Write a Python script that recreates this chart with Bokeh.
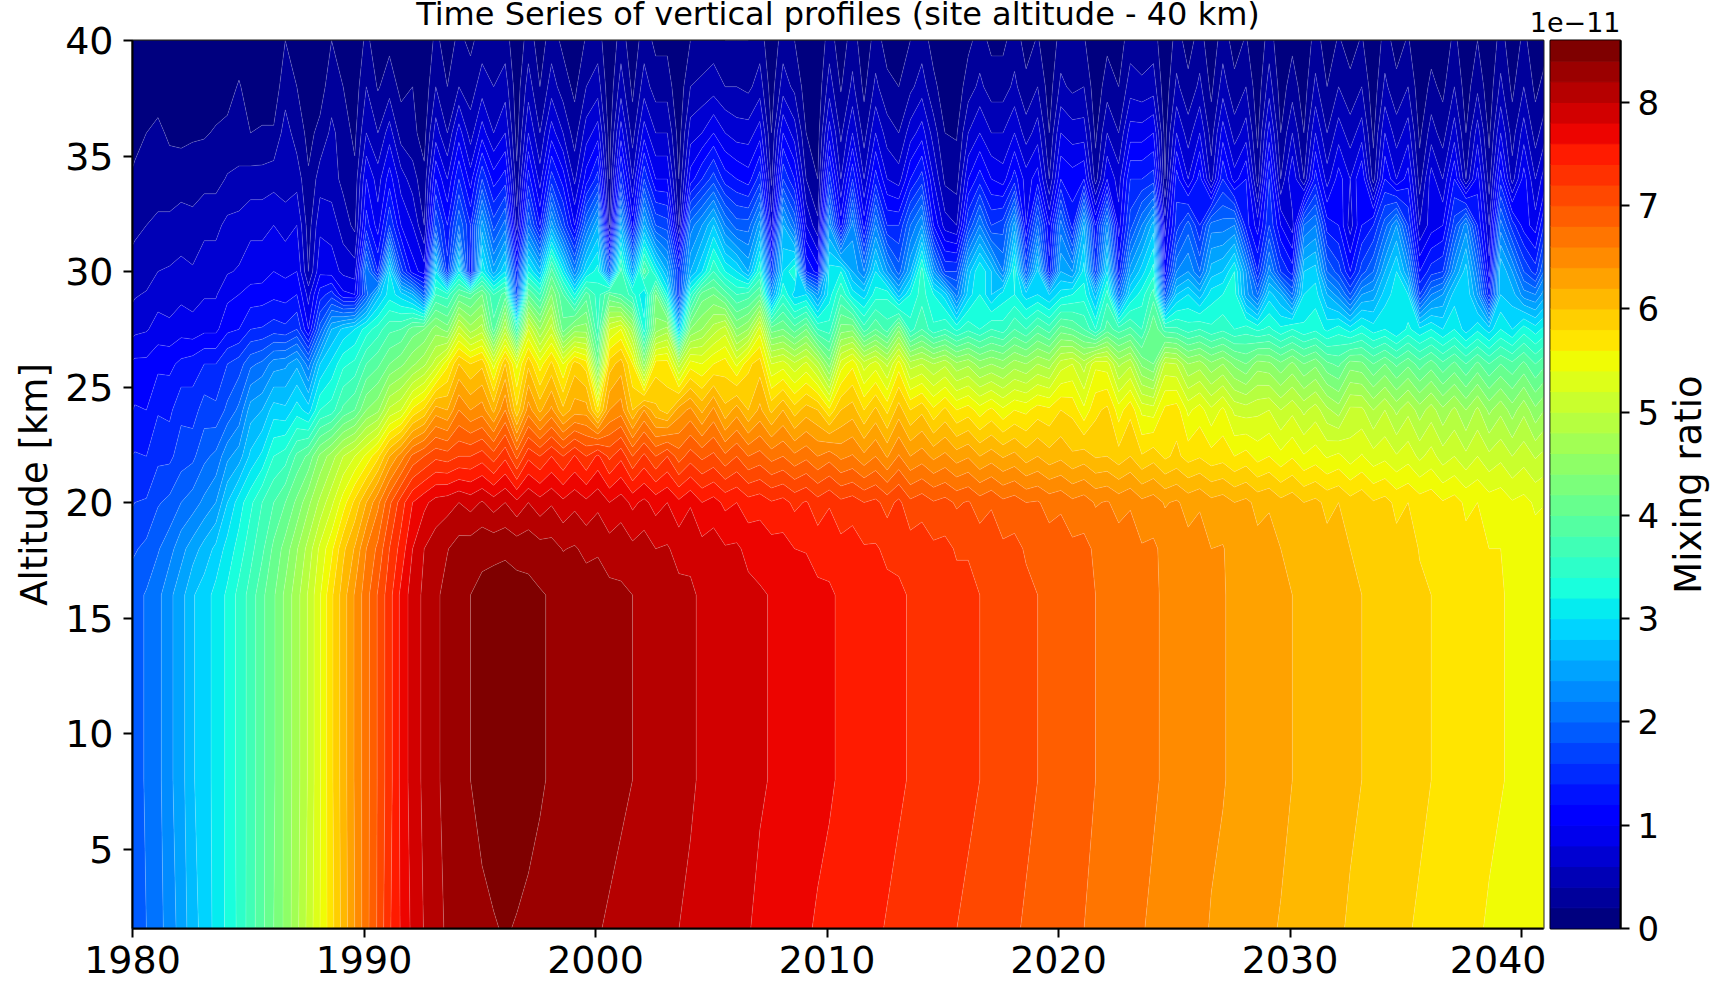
import numpy as np
from bokeh.plotting import figure
from bokeh.layouts import row
from bokeh.embed import file_html
from bokeh.resources import INLINE

# time axis: one sample every half year, from 1979.6 to 2041.1
years = [round(1979.6 + 0.5 * i, 1) for i in range(124)]
altitudes = [1.5, 8, 16, 18, 20, 22, 24, 26, 27.5, 29, 30, 32, 34, 36, 38, 40]

# mixing ratio in units of 1e-11, one list per altitude
mr_1p5 = [1.85,1.92,2.0,2.14,2.27,2.5,2.7,2.9,3.05,3.25,3.45,3.7,3.95,4.2,4.45,4.75,5.07,5.4,5.73,6.08,
 6.4,6.73,7.03,7.37,7.62,7.85,8.01,8.13,8.23,8.3,8.34,8.37,8.39,8.41,8.39,8.37,8.34,8.32,8.29,8.26,
 8.24,8.21,8.18,8.15,8.12,8.09,8.06,8.03,8.0,7.97,7.93,7.9,7.87,7.84,7.81,7.76,7.72,7.69,7.65,7.62,
 7.58,7.55,7.52,7.49,7.46,7.42,7.39,7.36,7.33,7.3,7.27,7.23,7.2,7.17,7.13,7.1,7.05,7.02,6.98,6.94,
 6.9,6.87,6.83,6.8,6.76,6.72,6.68,6.64,6.61,6.57,6.53,6.5,6.46,6.43,6.39,6.36,6.32,6.29,6.26,6.22,
 6.19,6.15,6.12,6.08,6.05,6.02,5.98,5.95,5.91,5.88,5.85,5.81,5.78,5.75,5.72,5.68,5.65,5.62,5.58,5.55,
 5.52,5.49,5.46,5.43]
mr_8 = [1.85,1.93,2.02,2.14,2.35,2.52,2.78,2.9,3.07,3.24,3.47,3.68,3.95,4.17,4.45,4.72,5.03,5.38,5.76,6.1,
 6.42,6.72,7.02,7.32,7.65,7.9,8.04,8.16,8.27,8.33,8.4,8.44,8.47,8.49,8.48,8.45,8.42,8.38,8.35,8.33,
 8.31,8.29,8.26,8.23,8.2,8.16,8.13,8.09,8.06,8.02,7.98,7.95,7.92,7.88,7.85,7.82,7.79,7.75,7.72,7.69,
 7.65,7.62,7.58,7.54,7.52,7.48,7.45,7.42,7.39,7.35,7.32,7.29,7.26,7.23,7.2,7.16,7.12,7.08,7.04,7.0,
 6.96,6.92,6.88,6.84,6.8,6.77,6.73,6.69,6.66,6.62,6.58,6.54,6.51,6.47,6.43,6.41,6.37,6.34,6.3,6.27,
 6.24,6.2,6.16,6.13,6.1,6.07,6.03,6.0,5.96,5.93,5.9,5.87,5.83,5.8,5.77,5.74,5.7,5.67,5.64,5.61,
 5.58,5.55,5.52,5.49]
mr_18 = [1.72,1.78,1.85,1.98,2.12,2.33,2.5,2.68,2.85,3.08,3.28,3.53,3.75,4.05,4.28,4.58,4.88,5.25,5.55,5.95,
 6.22,6.6,6.85,7.2,7.48,7.8,8.0,8.1,8.19,8.28,8.31,8.36,8.36,8.37,8.33,8.34,8.28,8.27,8.19,8.22,
 8.15,8.18,8.1,8.13,8.05,8.1,8.0,8.02,7.93,7.97,7.87,7.9,7.82,7.83,7.75,7.73,7.68,7.67,7.6,7.59,
 7.52,7.55,7.47,7.5,7.42,7.42,7.36,7.37,7.3,7.31,7.24,7.25,7.18,7.19,7.12,7.11,7.04,7.05,6.98,6.97,
 6.9,6.92,6.85,6.85,6.77,6.78,6.7,6.7,6.62,6.63,6.55,6.55,6.47,6.48,6.4,6.41,6.33,6.33,6.26,6.27,
 6.2,6.2,6.12,6.13,6.06,6.07,6.0,6.0,5.92,5.93,5.86,5.87,5.79,5.8,5.73,5.73,5.66,5.67,5.6,5.6,
 5.53,5.54,5.48,5.48]
mr_20 = [1.5,1.6,1.62,1.78,1.85,2.0,2.1,2.25,2.4,2.8,3.1,3.35,3.6,3.8,4.0,4.25,4.55,4.85,5.15,5.5,
 5.85,6.2,6.55,6.95,7.3,7.6,7.75,7.88,7.92,8.0,7.92,8.02,7.9,8.0,7.85,8.0,7.88,7.98,7.85,7.95,
 7.85,7.95,7.8,7.9,7.75,7.85,7.72,7.8,7.65,7.78,7.6,7.68,7.55,7.6,7.48,7.52,7.42,7.47,7.35,7.42,
 7.28,7.38,7.25,7.3,7.2,7.25,7.12,7.25,7.05,7.12,7.02,7.07,6.97,7.02,6.9,6.98,6.85,6.9,6.8,6.82,
 6.72,6.76,6.65,6.7,6.58,6.62,6.52,6.58,6.45,6.5,6.38,6.43,6.32,6.38,6.26,6.3,6.2,6.25,6.14,6.18,
 6.06,6.12,6.0,6.05,5.95,6.0,5.88,5.95,5.82,5.87,5.75,5.8,5.7,5.73,5.62,5.68,5.56,5.6,5.5,5.52,
 5.42,5.46,5.37,5.4]
mr_22 = [1.35,1.42,1.4,1.55,1.55,1.7,1.75,1.95,2.05,2.35,2.5,2.85,3.05,3.4,3.5,3.85,4.05,4.45,4.7,5.0,
 5.2,5.45,5.75,6.2,6.5,6.85,7.0,7.15,7.1,7.2,7.2,7.3,7.1,7.35,6.95,7.35,7.2,7.4,7.2,7.42,
 7.2,7.45,7.15,7.35,7.0,7.25,7.0,7.2,6.9,7.1,6.95,7.05,6.85,7.0,6.8,6.88,6.72,6.8,6.65,6.75,
 6.6,6.72,6.55,6.62,6.45,6.6,6.38,6.62,6.4,6.5,6.35,6.45,6.3,6.38,6.2,6.3,6.18,6.26,6.1,6.2,
 6.08,6.15,6.03,6.1,5.98,6.0,5.88,6.0,5.82,5.92,5.76,5.85,5.72,5.78,5.68,5.72,5.6,5.68,5.52,5.6,
 5.46,5.58,5.42,5.5,5.38,5.45,5.3,5.42,5.28,5.35,5.22,5.32,5.15,5.28,5.1,5.2,5.05,5.2,5.05,5.15,
 5.0,5.12,4.98,5.08]
mr_24 = [1.1,1.22,1.2,1.38,1.35,1.55,1.5,1.7,1.65,1.85,2.05,2.5,2.6,2.9,2.85,3.1,2.9,3.4,3.5,3.85,
 4.0,4.4,4.55,5.05,5.2,5.65,5.85,6.3,6.2,6.6,6.4,6.5,6.15,6.6,5.85,6.5,6.15,6.45,6.05,6.3,
 6.3,5.7,6.4,6.5,6.0,6.4,6.05,5.9,6.3,6.45,6.15,6.45,6.05,6.3,6.0,6.25,5.95,6.2,5.9,6.1,
 6.0,5.65,6.0,6.1,5.8,6.05,5.75,6.1,5.8,5.95,5.65,5.85,5.6,5.7,5.5,5.65,5.45,5.6,5.55,5.7,
 5.65,5.8,5.75,5.45,5.75,5.85,5.5,5.75,5.35,5.3,5.65,5.7,5.35,5.5,5.25,5.45,5.15,5.1,5.15,5.2,
 5.0,5.15,4.95,5.1,4.85,4.7,5.05,5.05,4.8,5.0,4.75,4.95,4.7,4.9,4.65,4.85,4.6,4.85,4.55,4.75,
 4.5,4.75,4.45,4.65]
mr_26 = [0.95,1.05,1.05,1.15,1.15,1.25,1.3,1.4,1.4,1.6,1.7,1.95,2.05,2.3,2.35,2.55,2.1,2.8,3.05,3.35,
 3.45,3.8,3.95,4.2,4.35,4.55,4.75,5.1,5.55,6.0,5.8,5.95,5.3,6.0,5.35,5.95,5.5,5.85,5.4,5.9,
 5.7,4.2,5.9,6.1,5.6,4.5,5.7,5.7,4.9,5.5,5.4,5.6,5.7,5.35,5.75,5.9,5.2,5.3,5.05,5.25,
 4.9,4.3,5.3,5.55,5.1,5.3,4.95,5.5,4.9,5.0,4.8,4.95,4.65,4.75,4.5,4.6,4.5,4.7,4.6,4.8,
 4.7,5.1,5.2,4.9,5.35,5.3,4.75,4.95,4.35,4.2,5.05,5.0,4.6,4.7,4.45,4.6,4.35,4.2,4.5,4.45,
 4.25,4.45,4.2,4.35,4.05,3.95,4.3,4.25,4.0,4.2,3.95,4.15,3.9,4.1,3.85,4.05,3.8,4.05,3.8,4.0,
 3.85,4.05,3.8,4.0]
mr_27p5 = [0.65,0.75,0.78,0.88,0.85,0.92,0.88,0.95,0.95,1.15,1.2,1.4,1.42,1.5,1.45,1.6,1.0,1.9,2.6,2.85,
 3.0,3.3,3.5,3.75,3.8,4.1,4.2,4.5,4.3,5.1,4.7,4.9,3.9,4.9,3.6,5.2,4.6,5.1,4.1,4.5,
 4.5,3.6,5.2,5.4,4.7,3.3,4.5,4.7,2.8,4.4,4.6,4.9,5.1,4.4,4.6,5.3,4.1,4.2,3.9,4.2,
 3.6,3.5,4.3,4.35,3.7,4.0,3.7,4.35,3.5,3.8,3.45,3.6,3.35,3.55,3.4,3.6,3.5,3.8,3.6,3.9,
 3.7,4.1,4.0,3.8,3.4,3.9,3.7,3.85,3.6,4.2,3.7,3.65,3.5,3.6,3.45,3.55,3.4,3.5,3.35,3.45,
 3.25,3.4,3.25,3.35,3.15,3.3,3.1,3.3,3.1,3.2,3.0,3.25,3.05,3.2,3.0,3.2,2.9,3.15,2.9,3.2,
 3.0,3.3,3.1,3.3]
mr_29 = [0.5,0.58,0.62,0.72,0.7,0.75,0.72,0.78,0.78,0.95,1.0,1.08,1.1,1.15,1.12,1.2,0.72,1.3,1.5,1.05,
 1.0,1.9,2.7,3.1,2.9,2.6,1.9,3.6,3.5,4.0,3.9,4.2,3.6,3.9,1.7,4.0,3.6,4.4,3.8,3.2,
 3.9,3.5,4.0,3.8,3.5,3.0,4.2,3.2,1.5,3.4,4.1,4.2,3.9,3.6,3.7,4.0,2.4,3.4,2.9,3.0,
 2.4,3.1,3.6,3.1,2.9,3.3,3.35,2.7,3.2,3.5,3.2,2.9,2.1,2.9,3.2,2.8,3.1,3.2,2.9,3.0,
 2.8,3.1,3.2,3.3,2.7,3.5,2.0,3.0,3.3,3.7,1.8,2.8,3.0,2.7,3.1,3.2,3.3,2.5,2.0,2.9,
 2.6,2.0,3.0,3.1,2.6,2.3,1.8,2.4,2.5,2.9,3.1,3.0,1.6,2.2,2.4,2.9,3.0,2.4,1.3,2.8,
 2.7,2.3,2.2,2.6]
mr_30 = [0.42,0.48,0.5,0.6,0.62,0.65,0.62,0.7,0.7,0.78,0.82,0.9,0.9,1.0,0.95,1.0,0.4,0.95,0.9,0.75,
 0.7,2.2,1.4,3.0,1.7,1.1,0.9,3.0,1.5,3.1,1.2,3.2,2.5,3.0,1.4,3.2,2.7,3.9,3.1,2.2,
 3.0,3.3,1.9,3.7,2.5,3.9,3.2,2.6,1.5,2.6,3.0,3.6,3.2,3.0,2.6,3.4,1.6,3.0,3.4,1.4,
 1.1,3.1,3.2,2.6,2.2,3.0,2.4,1.9,2.6,3.5,2.4,1.6,1.6,2.7,3.2,2.8,2.2,3.3,1.8,2.9,
 1.3,2.6,2.4,3.1,1.6,3.0,1.3,2.5,2.9,3.3,1.1,2.2,2.4,2.0,2.7,2.8,3.2,2.4,1.4,2.3,
 1.6,1.3,2.8,2.9,2.0,1.7,1.2,1.7,2.0,2.6,3.0,2.4,1.2,1.5,1.6,2.4,2.9,2.1,0.9,2.8,
 2.4,1.8,1.5,2.2]
mr_32 = [0.3,0.36,0.4,0.45,0.45,0.5,0.48,0.55,0.55,0.65,0.68,0.75,0.75,0.8,0.72,0.8,0.3,0.75,0.72,0.5,
 0.35,1.3,0.9,1.6,1.0,0.8,0.4,1.8,1.2,2.0,1.4,2.5,1.7,2.1,0.5,2.0,1.2,2.5,1.7,1.0,
 2.0,2.6,0.4,2.6,1.1,2.6,1.8,1.7,0.4,2.1,2.4,2.8,2.2,1.9,1.9,2.5,0.7,2.6,2.0,0.8,
 0.45,2.4,1.1,2.3,1.1,2.2,1.4,1.4,2.0,2.4,1.2,0.7,0.6,1.6,2.2,1.6,1.7,2.5,1.0,2.0,
 1.0,2.1,1.3,2.6,1.2,2.3,0.9,1.7,2.2,2.7,0.7,1.5,1.9,1.4,2.1,2.1,2.2,1.3,0.9,1.6,
 1.0,0.7,2.0,2.2,1.3,1.2,0.7,1.2,1.4,1.9,2.4,1.6,0.6,0.9,1.0,1.7,2.3,1.4,0.6,2.1,
 1.5,1.1,0.9,1.6]
mr_34 = [0.18,0.22,0.25,0.28,0.28,0.3,0.28,0.33,0.33,0.42,0.42,0.48,0.48,0.52,0.48,0.52,0.22,0.5,0.48,0.35,
 0.25,1.0,0.7,1.1,0.7,0.5,0.25,1.2,0.8,1.4,0.9,1.6,1.1,1.3,0.25,1.3,0.7,1.5,1.1,0.55,
 1.1,1.5,0.2,1.5,0.6,1.6,1.0,1.0,0.2,1.1,1.4,1.7,1.3,1.2,1.1,1.5,0.35,1.6,1.2,0.4,
 0.2,1.5,0.6,1.4,0.6,1.3,0.8,0.7,1.2,1.5,0.8,0.35,0.3,1.0,1.3,1.0,0.9,1.3,0.9,1.1,
 0.4,1.2,1.1,1.2,0.3,1.0,0.7,1.4,1.4,1.5,0.2,1.3,0.8,1.3,0.5,1.4,0.9,1.2,0.3,1.4,
 0.4,1.0,0.4,1.3,0.7,1.1,0.8,1.2,0.3,1.2,0.8,1.1,0.3,0.9,0.6,1.2,0.4,1.1,0.3,1.3,
 0.5,1.1,0.6,1.0]
mr_36 = [0.1,0.17,0.2,0.24,0.17,0.15,0.18,0.18,0.22,0.25,0.35,0.2,0.22,0.22,0.5,0.3,0.15,0.25,0.45,0.3,
 0.15,0.6,0.4,0.7,0.3,0.25,0.12,0.7,0.4,0.9,0.5,0.9,0.6,0.8,0.12,0.8,0.4,0.9,0.6,0.3,
 0.7,0.9,0.1,0.9,0.3,0.9,0.6,0.6,0.1,0.7,0.8,1.0,0.8,0.7,0.7,0.9,0.2,1.0,0.7,0.2,
 0.1,0.9,0.35,0.8,0.3,0.8,0.5,0.4,0.7,0.9,0.5,0.2,0.18,0.6,0.8,0.6,0.6,0.8,0.5,0.7,
 0.2,0.8,0.7,0.7,0.15,0.6,0.4,0.9,0.9,1.0,0.12,0.8,0.5,0.8,0.3,0.9,0.5,0.7,0.15,0.9,
 0.2,0.6,0.2,0.8,0.4,0.7,0.5,0.7,0.15,0.8,0.5,0.7,0.15,0.5,0.3,0.7,0.2,0.7,0.15,0.8,
 0.3,0.7,0.3,0.6]
mr_38 = [0.03,0.05,0.07,0.12,0.07,0.06,0.08,0.08,0.1,0.12,0.22,0.1,0.1,0.1,0.3,0.2,0.06,0.12,0.3,0.2,
 0.08,0.4,0.18,0.3,0.15,0.2,0.06,0.4,0.2,0.4,0.3,0.5,0.4,0.5,0.08,0.5,0.2,0.5,0.3,0.15,
 0.4,0.5,0.05,0.5,0.15,0.5,0.3,0.3,0.05,0.4,0.45,0.5,0.4,0.4,0.35,0.5,0.1,0.5,0.35,0.1,
 0.05,0.5,0.18,0.45,0.15,0.45,0.25,0.2,0.35,0.5,0.25,0.1,0.08,0.3,0.45,0.3,0.3,0.45,0.25,0.4,
 0.1,0.45,0.35,0.4,0.07,0.3,0.2,0.5,0.45,0.5,0.06,0.45,0.25,0.45,0.15,0.5,0.25,0.4,0.07,0.5,
 0.1,0.3,0.1,0.45,0.2,0.4,0.25,0.4,0.07,0.45,0.25,0.4,0.07,0.25,0.15,0.4,0.1,0.35,0.07,0.45,
 0.15,0.4,0.15,0.3]
mr_40 = [0.01,0.02,0.02,0.03,0.02,0.02,0.03,0.03,0.04,0.05,0.08,0.04,0.04,0.05,0.2,0.1,0.03,0.05,0.2,0.1,
 0.03,0.25,0.08,0.15,0.07,0.1,0.03,0.25,0.1,0.25,0.15,0.3,0.2,0.3,0.03,0.3,0.1,0.3,0.15,0.07,
 0.22,0.3,0.02,0.3,0.07,0.3,0.15,0.15,0.02,0.2,0.25,0.3,0.2,0.2,0.2,0.3,0.04,0.3,0.2,0.05,
 0.02,0.3,0.08,0.3,0.07,0.28,0.12,0.1,0.2,0.3,0.12,0.05,0.03,0.15,0.28,0.15,0.15,0.3,0.12,0.22,
 0.05,0.28,0.2,0.22,0.03,0.15,0.1,0.3,0.25,0.3,0.03,0.28,0.12,0.28,0.07,0.3,0.12,0.22,0.03,0.3,
 0.05,0.15,0.05,0.28,0.1,0.22,0.12,0.22,0.03,0.28,0.12,0.22,0.03,0.12,0.07,0.25,0.05,0.2,0.03,0.28,
 0.07,0.25,0.07,0.15]

x_ticks = [1980, 1990, 2000, 2010, 2020, 2030, 2040]
y_ticks = [5, 10, 15, 20, 25, 30, 35, 40]
cb_ticks = [0, 1, 2, 3, 4, 5, 6, 7, 8]
title_text = "Time Series of vertical profiles (site altitude - 40 km)"

levels = [round(0.2 * i, 1) for i in range(44)]


def jet(f):
    r = np.interp(f, [0, 0.35, 0.66, 0.89, 1], [0, 0, 1, 1, 0.5])
    g = np.interp(f, [0, 0.125, 0.375, 0.64, 0.91, 1], [0, 0, 1, 1, 0, 0])
    b = np.interp(f, [0, 0.11, 0.34, 0.65, 1], [0.5, 1, 1, 0, 0])
    return "#%02x%02x%02x" % (int(r * 255), int(g * 255), int(b * 255))


palette = [jet(i / 42) for i in range(43)]

z = np.array([mr_1p5, mr_8, mr_8, mr_18, mr_20, mr_22, mr_24, mr_26,
              mr_27p5, mr_29, mr_30, mr_32, mr_34, mr_36, mr_38, mr_40])

FONT = "DejaVu Sans"
H = 996
TOP = 56
BOTTOM = 52

p = figure(width=1546, height=H, x_range=(1980, 2040.95), y_range=(1.56, 40),
           output_backend="svg", toolbar_location=None,
           min_border_left=132, min_border_right=3, min_border_top=TOP, min_border_bottom=BOTTOM,
           styles={"margin-top": "-16px"})
p.contour(years, altitudes, z, levels, fill_color=palette,
          line_color="white", line_alpha=0.28, line_width=0.6)

p.grid.visible = False
p.title.text = title_text
p.title.align = "center"
p.title.text_font = FONT
p.title.text_font_size = "32px"
p.title.text_font_style = "normal"
p.title.text_color = "black"
p.title.standoff = 16
p.outline_line_color = "#222222"
p.outline_line_width = 2

for ax in (p.xaxis[0], p.yaxis[0]):
    ax.major_label_text_font = FONT
    ax.major_label_text_font_size = "38px"
    ax.major_label_text_color = "black"
    ax.major_tick_in = 0
    ax.major_tick_out = 9
    ax.major_tick_line_width = 2
    ax.major_tick_line_color = "black"
    ax.minor_tick_line_color = None
    ax.axis_line_width = 2
    ax.axis_line_color = "black"
p.xaxis[0].ticker = x_ticks
p.yaxis[0].ticker = y_ticks
p.xaxis[0].major_label_standoff = 8
p.yaxis[0].major_label_standoff = 10
p.yaxis[0].axis_label = "Altitude [km]"
p.yaxis[0].axis_label_text_font = FONT
p.yaxis[0].axis_label_text_font_size = "37px"
p.yaxis[0].axis_label_text_font_style = "normal"
p.yaxis[0].axis_label_text_color = "black"
p.yaxis[0].axis_label_standoff = 6

cb = figure(width=136, height=H, x_range=(0, 1), y_range=(0, 8.6),
            output_backend="svg", toolbar_location=None, y_axis_location="right",
            min_border_left=24, min_border_right=41, min_border_top=TOP, min_border_bottom=BOTTOM,
            styles={"margin-left": "-20px", "margin-top": "-16px"})
cb.border_fill_color = None
cb.quad(left=0, right=1, bottom=levels[:-1], top=levels[1:], fill_color=palette, line_color=palette)
cb.grid.visible = False
cb.xaxis.visible = False
cb.title.text = "1e\u221211"
cb.title.align = "right"
cb.title.text_font = FONT
cb.title.text_font_size = "27px"
cb.title.text_font_style = "normal"
cb.title.text_color = "black"
cb.title.standoff = 17
cb.outline_line_color = "black"
cb.outline_line_width = 2
ay = cb.yaxis[0]
ay.ticker = cb_ticks
ay.major_label_text_font = FONT
ay.major_label_text_font_size = "34px"
ay.major_label_text_color = "black"
ay.major_tick_in = 0
ay.major_tick_out = 9
ay.major_tick_line_width = 2
ay.major_tick_line_color = "black"
ay.minor_tick_line_color = None
ay.axis_line_width = 2
ay.major_label_standoff = 8

# narrow strip that only carries the colour bar's axis label, reading upward
lab = figure(width=51, height=H, x_range=(0, 1), y_range=(0, 1),
             output_backend="svg", toolbar_location=None,
             min_border_left=49, min_border_right=0, min_border_top=TOP, min_border_bottom=BOTTOM,
             styles={"margin-top": "-16px"})
lab.grid.visible = False
lab.xaxis.visible = False
lab.outline_line_color = None
lab.background_fill_color = None
la = lab.yaxis[0]
la.ticker = []
la.axis_line_color = None
la.major_tick_line_color = None
la.minor_tick_line_color = None
la.major_label_standoff = 0
la.axis_label = "Mixing ratio"
la.axis_label_text_font = FONT
la.axis_label_text_font_size = "37px"
la.axis_label_text_font_style = "normal"
la.axis_label_text_color = "black"
la.axis_label_standoff = 2

page = row(p, cb, lab)
open("out.html", "w").write(file_html(page, INLINE))
